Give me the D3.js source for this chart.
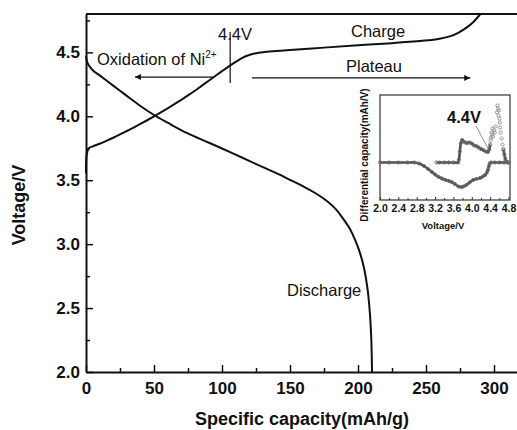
<!DOCTYPE html>
<html><head><meta charset="utf-8">
<script src="https://cdn.jsdelivr.net/npm/d3@7"></script>
<style>body{margin:0;background:#fff} svg{display:block} text{font-family:"Liberation Sans",Arial,sans-serif}</style>
</head><body><svg id="c" width="517" height="430"></svg>
<script>
// ---- main chart data ----
const xTicks = [0, 50, 100, 150, 200, 250, 300];
const xMinor = [25, 75, 125, 175, 225, 275];
const yTicks = [2.0, 2.5, 3.0, 3.5, 4.0, 4.5];
const yMinor = [2.25, 2.75, 3.25, 3.75, 4.25, 4.75];

const chargeCap = [0, 0.5, 2, 5, 10, 15, 20, 25, 30, 35, 40, 45, 50, 55, 60, 65, 70, 75, 80, 85, 90, 95, 100, 105, 110, 115, 120, 125, 130, 140, 150, 175, 200, 225, 249, 260, 268, 274, 280, 285, 290];
const chargeV   = [3.55, 3.70, 3.75, 3.765, 3.785, 3.808, 3.832, 3.858, 3.885, 3.912, 3.94, 3.969, 3.999, 4.03, 4.062, 4.095, 4.129, 4.164, 4.20, 4.238, 4.276, 4.315, 4.353, 4.39, 4.425, 4.457, 4.479, 4.493, 4.501, 4.51, 4.518, 4.537, 4.555, 4.572, 4.592, 4.607, 4.627, 4.655, 4.695, 4.74, 4.80];

const dischargeCap = [0, 1, 3, 6, 10, 15, 20, 25, 30, 40, 50, 60, 74, 90, 100, 110, 120, 130, 140, 150, 160, 170, 178, 184, 189, 194, 198, 201.5, 204.5, 207, 208.8, 209.8, 210.3];
const dischargeV   = [4.47, 4.42, 4.385, 4.35, 4.32, 4.28, 4.24, 4.20, 4.16, 4.08, 4.01, 3.95, 3.87, 3.795, 3.748, 3.70, 3.651, 3.603, 3.555, 3.503, 3.45, 3.39, 3.33, 3.27, 3.20, 3.12, 3.03, 2.93, 2.81, 2.65, 2.45, 2.25, 2.0];

// ---- inset data (dQ/dV, arbitrary units) ----
const insetTicks = [2.0, 2.4, 2.8, 3.2, 3.6, 4.0, 4.4, 4.8];
const insetMinor = [2.2, 2.6, 3.0, 3.4, 3.8, 4.2, 4.6];
const insChargeV = [3.23, 3.3, 3.4, 3.5, 3.6, 3.7, 3.72, 3.74, 3.76, 3.79, 3.82, 3.86, 3.9, 3.95, 4.0, 4.05, 4.1, 4.15, 4.2, 4.25, 4.3, 4.35, 4.38, 4.40];
const insChargeD = [0, 0, 0, 0, 0, 0, 3, 11, 19, 22.5, 21, 20, 19.5, 20, 19, 17, 16.5, 15, 13.5, 12.5, 11, 10.5, 13, 18];
const insScatterV = [4.41, 4.42, 4.43, 4.44, 4.45, 4.46, 4.48, 4.50, 4.52, 4.55, 4.56, 4.57, 4.58, 4.59, 4.60, 4.61, 4.62, 4.63, 4.65, 4.67, 4.69];
const insScatterD = [22, 25, 30, 28, 34, 26, 32, 30, 36, 50, 57, 54, 47, 52, 44, 40, 35, 30, 24, 18, 13];
const insTailV = [4.69, 4.71, 4.73, 4.75, 4.77, 4.80];
const insTailD = [13, 8, 4, 1, 0, 0];
const insDisV = [2.0, 2.2, 2.4, 2.6, 2.75, 2.85, 2.96, 3.05, 3.13, 3.2, 3.28, 3.35, 3.43, 3.5, 3.56, 3.63, 3.71, 3.77, 3.82, 3.88, 3.95, 4.03, 4.1, 4.18, 4.24, 4.29, 4.33, 4.35, 4.37, 4.39, 4.42, 4.5, 4.6, 4.7, 4.8];
const insDisD = [0, 0, 0, 0, 0, -1, -3.5, -6.5, -9.5, -12, -14.5, -16, -17.5, -18.5, -19.5, -21.5, -24, -24.5, -24, -22.5, -20, -17.5, -16.5, -15.5, -14, -12.5, -10, -7.5, -4, -1, 0, 0, 0, 0, 0];

const svg = d3.select("#c");
const FONT = '"Liberation Sans",Arial,sans-serif';

// ---- scales ----
const x = d3.scaleLinear().domain([0, 316.9]).range([86, 517]);
const y = d3.scaleLinear().domain([2.0, 4.8]).range([372, 14]);

// axes
const gx = svg.append("g").attr("transform", "translate(0,372)");
gx.call(d3.axisBottom(x).tickValues(xTicks).tickSize(-7).tickSizeOuter(0).tickPadding(10).tickFormat(d3.format("d")));
svg.append("g").attr("transform", "translate(0,372)")
  .call(d3.axisBottom(x).tickValues(xMinor).tickSize(-4).tickSizeOuter(0).tickFormat(""))
  .select(".domain").remove();
const gy = svg.append("g").attr("transform", "translate(86,0)");
gy.call(d3.axisLeft(y).tickValues(yTicks).tickSize(-7).tickSizeOuter(0).tickPadding(6).tickFormat(d3.format(".1f")));
svg.append("g").attr("transform", "translate(86,0)")
  .call(d3.axisLeft(y).tickValues(yMinor).tickSize(-4).tickSizeOuter(0).tickFormat(""))
  .select(".domain").remove();
svg.selectAll(".domain").attr("stroke", "#111").attr("stroke-width", 2);
svg.selectAll(".tick line").attr("stroke", "#111").attr("stroke-width", 1.5);
svg.selectAll(".tick text").attr("font-family", FONT).attr("font-size", 17).attr("font-weight", "bold").attr("fill", "#111");
// top border
svg.append("line").attr("x1", x(0)).attr("x2", x(316.9)).attr("y1", y(4.8)).attr("y2", y(4.8))
  .attr("stroke", "#111").attr("stroke-width", 2);

// axis titles
svg.append("text").attr("x", 302).attr("y", 425).attr("text-anchor", "middle")
  .attr("font-size", 18).attr("font-weight", "bold").attr("fill", "#111").text("Specific capacity(mAh/g)");
svg.append("text").attr("transform", "translate(25,205) rotate(-90)").attr("text-anchor", "middle")
  .attr("font-size", 18).attr("font-weight", "bold").attr("fill", "#111").text("Voltage/V");

// curves
const line = d3.line().x(d => x(d[0])).y(d => y(d[1])).curve(d3.curveCatmullRom.alpha(0.5));
svg.append("path").datum(chargeCap.map((c, i) => [c, chargeV[i]]))
  .attr("d", line).attr("fill", "none").attr("stroke", "#111").attr("stroke-width", 2);
svg.append("path").datum(dischargeCap.map((c, i) => [c, dischargeV[i]]))
  .attr("d", line).attr("fill", "none").attr("stroke", "#111").attr("stroke-width", 2);

// annotations
const defs = svg.append("defs");
defs.append("marker").attr("id", "ah").attr("viewBox", "0 0 10 10").attr("refX", 10).attr("refY", 5)
  .attr("markerWidth", 11).attr("markerHeight", 6).attr("markerUnits", "userSpaceOnUse").attr("orient", "auto")
  .append("path").attr("d", "M0,0L10,5L0,10Z").attr("fill", "#111");
svg.append("line").attr("x1", x(93.4)).attr("x2", x(36)).attr("y1", y(4.307)).attr("y2", y(4.307))
  .attr("stroke", "#111").attr("stroke-width", 1.2).attr("marker-end", "url(#ah)");
svg.append("line").attr("x1", x(122)).attr("x2", x(282.5)).attr("y1", y(4.30)).attr("y2", y(4.30))
  .attr("stroke", "#111").attr("stroke-width", 1.2).attr("marker-end", "url(#ah)");
svg.append("line").attr("x1", x(106)).attr("x2", x(106)).attr("y1", y(4.66)).attr("y2", y(4.26))
  .attr("stroke", "#111").attr("stroke-width", 1.2);

const ann = (tx, ty, s, size) => svg.append("text").attr("x", tx).attr("y", ty)
  .attr("font-size", size).attr("fill", "#111").text(s);
ann(218, 40, "4.4V", 16.5);
ann(351, 37, "Charge", 16.5);
ann(346, 72, "Plateau", 16.5);
ann(287, 296, "Discharge", 16.5);
const ox = svg.append("text").attr("x", 97).attr("y", 65).attr("font-size", 16.5).attr("fill", "#111");
ox.append("tspan").text("Oxidation of Ni");
ox.append("tspan").attr("dy", -7).attr("font-size", 10).text("2+");

// ---- inset ----
const xi = d3.scaleLinear().domain([2.0, 4.8]).range([380, 508.5]);
const yi = d3.scaleLinear().domain([-37.5, 67.5]).range([200, 95]);
svg.append("rect").attr("x", 380).attr("y", 95).attr("width", 130).attr("height", 105)
  .attr("fill", "#fff").attr("stroke", "#333").attr("stroke-width", 1.2);
const gi = svg.append("g").attr("transform", "translate(0,200)");
gi.call(d3.axisBottom(xi).tickValues(insetTicks).tickSize(-3).tickSizeOuter(0).tickPadding(5).tickFormat(d3.format(".1f")));
gi.append("g").call(d3.axisBottom(xi).tickValues(insetMinor).tickSize(-2).tickSizeOuter(0).tickFormat(""))
  .select(".domain").remove();
gi.selectAll(".domain").remove();
gi.selectAll(".tick line").attr("stroke", "#333").attr("stroke-width", 1);
gi.selectAll(".tick text").attr("font-family", FONT).attr("font-size", 10.5).attr("font-weight", "bold").attr("fill", "#111");
svg.append("text").attr("x", 443).attr("y", 229).attr("text-anchor", "middle")
  .attr("font-size", 9.5).attr("font-weight", "bold").attr("fill", "#111").text("Voltage/V");
svg.append("text").attr("transform", "translate(368,155) rotate(-90)").attr("text-anchor", "middle")
  .attr("font-size", 10).attr("font-weight", "bold").attr("fill", "#111").text("Differential capacity(mAh/V)");

const li = d3.line().x(d => xi(d[0])).y(d => yi(d[1])).curve(d3.curveCatmullRom.alpha(0.5));
const drawSeries = (vs, ds, withLine) => {
  const pts = vs.map((v, i) => [v, ds[i]]);
  if (withLine) svg.append("path").datum(pts).attr("d", li).attr("fill", "none")
    .attr("stroke", "#505050").attr("stroke-width", 2.6);
  svg.append("g").selectAll("circle").data(pts).join("circle")
    .attr("cx", d => xi(d[0])).attr("cy", d => yi(d[1])).attr("r", 1.6)
    .attr("fill", "none").attr("stroke", withLine ? "#6a6a6a" : "#8a8a8a").attr("stroke-width", 0.9);
};
drawSeries(insDisV, insDisD, true);
drawSeries(insChargeV, insChargeD, true);
drawSeries(insScatterV, insScatterD, false);
drawSeries(insTailV, insTailD, true);

svg.append("line").attr("x1", xi(4.094)).attr("y1", yi(36.5)).attr("x2", xi(4.372)).attr("y2", yi(12.5))
  .attr("stroke", "#777").attr("stroke-width", 0.8);
svg.append("text").attr("x", 447).attr("y", 123).attr("font-size", 16.5).attr("font-weight", "bold")
  .attr("fill", "#111").text("4.4V");
</script></body></html>
